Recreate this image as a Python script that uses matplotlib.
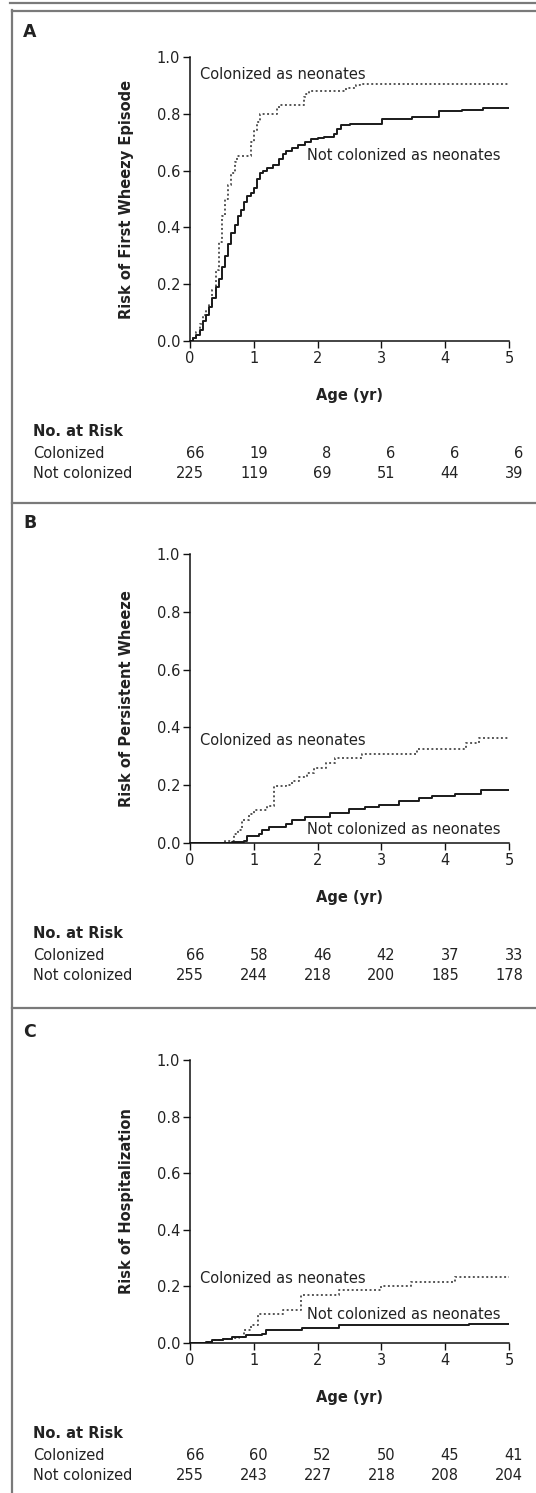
import matplotlib
matplotlib.use('Agg')
import matplotlib.pyplot as plt
import matplotlib.transforms as mtransforms
from matplotlib.lines import Line2D

plt.rcParams['font.family'] = ['DejaVu Sans']

W, H = 536, 1493

# ---- data ----
# Panel A: first wheezy episode
a_col_t = [0, 0.05, 0.10, 0.15, 0.20, 0.25, 0.30, 0.35, 0.40, 0.45, 0.50, 0.55, 0.60, 0.65, 0.70, 0.74,
           0.92, 0.95, 1.00, 1.05, 1.10, 1.32, 1.36, 1.40, 1.74, 1.78, 1.82, 1.86, 2.35, 2.45, 2.60, 2.67, 5.0]
a_col_y = [0, 0.01, 0.03, 0.06, 0.09, 0.11, 0.13, 0.18, 0.25, 0.35, 0.44, 0.50, 0.55, 0.59, 0.63, 0.65,
           0.65, 0.70, 0.74, 0.77, 0.80, 0.80, 0.82, 0.83, 0.83, 0.86, 0.87, 0.88, 0.88, 0.89, 0.90, 0.905, 0.905]
a_not_t = [0, 0.05, 0.10, 0.15, 0.20, 0.25, 0.30, 0.35, 0.40, 0.45, 0.50, 0.55, 0.60, 0.65, 0.70, 0.75,
           0.80, 0.85, 0.90, 0.95, 1.00, 1.05, 1.10, 1.15, 1.20, 1.30, 1.40, 1.45, 1.50, 1.60, 1.70, 1.80,
           1.90, 2.00, 2.10, 2.25, 2.30, 2.37, 2.50, 2.86, 3.01, 3.48, 3.80, 3.90, 4.27, 4.60, 5.0]
a_not_y = [0, 0.01, 0.02, 0.04, 0.07, 0.09, 0.12, 0.15, 0.19, 0.22, 0.26, 0.30, 0.34, 0.38, 0.41, 0.44,
           0.46, 0.49, 0.51, 0.52, 0.54, 0.57, 0.59, 0.60, 0.61, 0.62, 0.64, 0.66, 0.67, 0.68, 0.69, 0.70,
           0.71, 0.715, 0.72, 0.73, 0.745, 0.76, 0.765, 0.765, 0.78, 0.79, 0.79, 0.81, 0.815, 0.82, 0.82]

# Panel B: persistent wheeze
b_col_t = [0, 0.55, 0.69, 0.75, 0.82, 0.92, 1.00, 1.21, 1.32, 1.50, 1.60, 1.71, 1.84, 1.94, 2.13, 2.28, 2.70, 3.56, 4.32, 4.53, 5.0]
b_col_y = [0, 0.006, 0.03, 0.046, 0.08, 0.10, 0.115, 0.127, 0.197, 0.20, 0.214, 0.23, 0.243, 0.26, 0.277, 0.295, 0.309, 0.326, 0.347, 0.364, 0.364]
b_not_t = [0, 0.66, 0.85, 0.90, 1.08, 1.13, 1.24, 1.50, 1.60, 1.81, 2.20, 2.49, 2.75, 2.96, 3.28, 3.59, 3.80, 4.16, 4.42, 4.56, 5.0]
b_not_y = [0, 0.002, 0.006, 0.023, 0.03, 0.046, 0.055, 0.067, 0.08, 0.089, 0.104, 0.118, 0.125, 0.133, 0.145, 0.156, 0.162, 0.168, 0.171, 0.182, 0.182]

# Panel C: hospitalization
c_col_t = [0, 0.25, 0.35, 0.51, 0.66, 0.77, 0.85, 0.95, 1.06, 1.45, 1.74, 2.33, 2.99, 3.46, 4.16, 5.0]
c_col_y = [0, 0.004, 0.009, 0.013, 0.018, 0.021, 0.045, 0.062, 0.104, 0.115, 0.168, 0.186, 0.20, 0.215, 0.233, 0.233]
c_not_t = [0, 0.25, 0.35, 0.51, 0.66, 0.87, 1.13, 1.19, 1.76, 2.33, 4.37, 5.0]
c_not_y = [0, 0.004, 0.009, 0.013, 0.021, 0.027, 0.033, 0.045, 0.054, 0.062, 0.068, 0.068]

ticks = [0, 1, 2, 3, 4, 5]
risk_a = {'Colonized': [66, 19, 8, 6, 6, 6], 'Not colonized': [225, 119, 69, 51, 44, 39]}
risk_b = {'Colonized': [66, 58, 46, 42, 37, 33], 'Not colonized': [255, 244, 218, 200, 185, 178]}
risk_c = {'Colonized': [66, 60, 52, 50, 45, 41], 'Not colonized': [255, 243, 227, 218, 208, 204]}

ylabels = ['Risk of First Wheezy Episode', 'Risk of Persistent Wheeze', 'Risk of Hospitalization']
letters = ['A', 'B', 'C']
col_lbl_pos = [(0.16, 0.94), (0.16, 0.355), (0.15, 0.227)]
not_lbl_pos = [(1.84, 0.653), (1.84, 0.046), (1.84, 0.101)]

# pixel geometry: (top of axes, bottom of axes, letter y)
panels = [(57, 341, 32), (554, 843, 523), (1060, 1343, 1032)]

FS = 10.5
TXT = '#222222'
BORDER = '#7a7a7a'

fig = plt.figure(figsize=(W / 100, H / 100), dpi=100)


def fx(px):
    return px / W


def fy(py):
    return 1 - py / H


# borders
fig.add_artist(Line2D([fx(10), 1], [fy(2.5), fy(2.5)], color=BORDER, lw=1.6))
fig.add_artist(Line2D([fx(12), 1], [fy(10.5), fy(10.5)], color=BORDER, lw=1.6))
fig.add_artist(Line2D([fx(12), fx(12)], [fy(10), 0], color=BORDER, lw=1.6))
for sep in [503, 1008]:
    fig.add_artist(Line2D([fx(12), 1], [fy(sep), fy(sep)], color=BORDER, lw=1.6))

curves = [(a_col_t, a_col_y, a_not_t, a_not_y),
          (b_col_t, b_col_y, b_not_t, b_not_y),
          (c_col_t, c_col_y, c_not_t, c_not_y)]
risks = [risk_a, risk_b, risk_c]

for i, (top, bot, ly) in enumerate(panels):
    ax = fig.add_axes([fx(190), fy(bot), fx(509) - fx(190), (bot - top) / H])
    ct, cy, nt, ny = curves[i]
    ax.step(ct, cy, where='post', color='#555555', lw=1.4, linestyle=(0, (1, 1.3)))
    ax.step(nt, ny, where='post', color='#1a1a1a', lw=1.4)
    ax.set_xlim(0, 5)
    ax.set_ylim(0, 1)
    ax.set_xticks(ticks)
    ax.set_yticks([0, 0.2, 0.4, 0.6, 0.8, 1.0])
    ax.set_yticklabels(['0.0', '0.2', '0.4', '0.6', '0.8', '1.0'])
    for s in ['top', 'right']:
        ax.spines[s].set_visible(False)
    for s in ['left', 'bottom']:
        ax.spines[s].set_linewidth(1.1)
        ax.spines[s].set_color('#111111')
    ax.tick_params(direction='out', length=5, width=1.0, colors='#111111',
                   labelsize=FS, labelcolor=TXT, pad=2)

    ax.set_ylabel(ylabels[i], fontsize=FS, fontweight='bold', color=TXT)
    ax.yaxis.set_label_coords((134 - 190) / 319, 0.5)
    ax.set_xlabel('Age (yr)', fontsize=FS, fontweight='bold', color=TXT)
    ax.xaxis.set_label_coords(0.5, -47 / (bot - top))

    ax.text(col_lbl_pos[i][0], col_lbl_pos[i][1], 'Colonized as neonates',
            fontsize=FS, color=TXT, ha='left', va='center')
    ax.text(not_lbl_pos[i][0], not_lbl_pos[i][1], 'Not colonized as neonates',
            fontsize=FS, color=TXT, ha='left', va='center')

    fig.text(fx(23), fy(ly), letters[i], fontsize=12.5, fontweight='bold',
             color=TXT, ha='left', va='center')

    # number at risk table
    trans = mtransforms.blended_transform_factory(ax.transData, fig.transFigure)
    fig.text(fx(33), fy(bot + 90), 'No. at Risk', fontsize=FS, fontweight='bold',
             color=TXT, ha='left', va='center')
    for j, (name, vals) in enumerate(risks[i].items()):
        yy = fy(bot + 112 + 20 * j)
        fig.text(fx(33), yy, name, fontsize=FS, color=TXT, ha='left', va='center')
        for t, v in zip(ticks, vals):
            ax.text(t + 0.22, yy, str(v), transform=trans, fontsize=FS,
                    color=TXT, ha='right', va='center', clip_on=False)

fig.savefig('out.png', dpi=100, facecolor='white')
